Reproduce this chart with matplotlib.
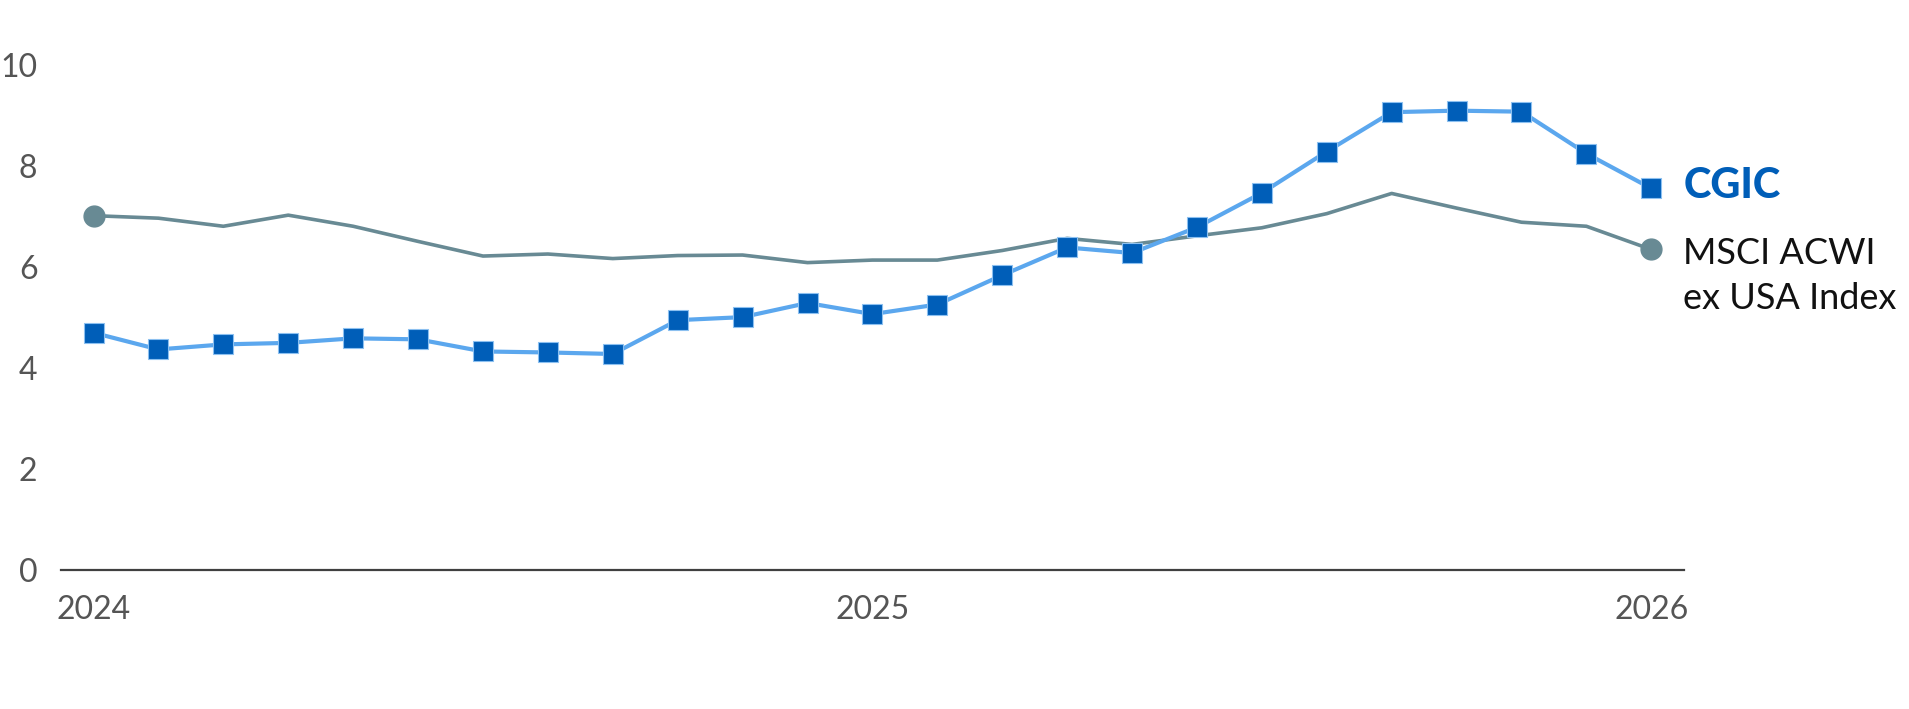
import matplotlib
matplotlib.use("Agg")
import matplotlib.pyplot as plt

# Monthly observations, Jan 2024 .. Jan 2026
months = list(range(25))
cgic = [4.70, 4.37, 4.47, 4.50, 4.59, 4.57, 4.33, 4.31, 4.28, 4.95, 5.01, 5.29, 5.07,
        5.26, 5.84, 6.39, 6.28, 6.79, 7.47, 8.29, 9.07, 9.10, 9.08, 8.25, 7.56]
msci = [7.02, 6.97, 6.81, 7.03, 6.81, 6.51, 6.22, 6.26, 6.17, 6.23, 6.24, 6.09, 6.14,
        6.14, 6.33, 6.57, 6.45, 6.62, 6.78, 7.06, 7.46, 7.17, 6.89, 6.81, 6.35]
year_ticks = [0, 12, 24]
year_labels = ["2024", "2025", "2026"]
y_ticks = [0, 2, 4, 6, 8, 10]

plt.rcParams["font.family"] = ["Lato", "DejaVu Sans"]

fig = plt.figure(figsize=(19.09, 7.09), dpi=100)
ax = fig.add_axes([0.032, 0.196, 0.850, 0.712])

# index line (grey) with dots at the ends
ax.plot(months, msci, color="#688a94", lw=2.6, zorder=2)
ax.plot([months[0], months[-1]], [msci[0], msci[-1]], ls="none", marker="o",
        ms=15, color="#688a94", zorder=3)

# CGIC line with square markers
ax.plot(months, cgic, color="#5ba7ee", lw=3, marker="s", ms=14,
        markerfacecolor="#005eb8", markeredgecolor="#8cc0f0", markeredgewidth=0.8,
        zorder=4)

ax.set_xlim(-0.5, 24.5)
ax.set_ylim(0, 10)
ax.set_xticks(year_ticks)
ax.set_xticklabels(year_labels)
ax.set_yticks(y_ticks)
ax.set_yticklabels([str(v) for v in y_ticks])
ax.tick_params(axis="both", length=0, labelsize=23, labelcolor="#555555")
ax.tick_params(axis="y", pad=17)
ax.tick_params(axis="x", pad=18)

for s in ["top", "right", "left"]:
    ax.spines[s].set_visible(False)
ax.spines["bottom"].set_color("#404040")
ax.spines["bottom"].set_linewidth(1.6)
ax.spines["bottom"].set_zorder(1)

ax.annotate("CGIC", xy=(months[-1], cgic[-1]), xytext=(23, 2), textcoords="offset points",
            va="center", ha="left", fontsize=30, fontweight="black", color="#005eb8",
            annotation_clip=False)
ax.annotate("MSCI ACWI", xy=(months[-1], msci[-1]), xytext=(23, -3),
            textcoords="offset points", va="center", ha="left", fontsize=26,
            color="#111111", annotation_clip=False)
ax.annotate("ex USA Index", xy=(months[-1], msci[-1]), xytext=(23, -35),
            textcoords="offset points", va="center", ha="left", fontsize=26,
            color="#111111", annotation_clip=False)

fig.savefig("out.png", dpi=100)
